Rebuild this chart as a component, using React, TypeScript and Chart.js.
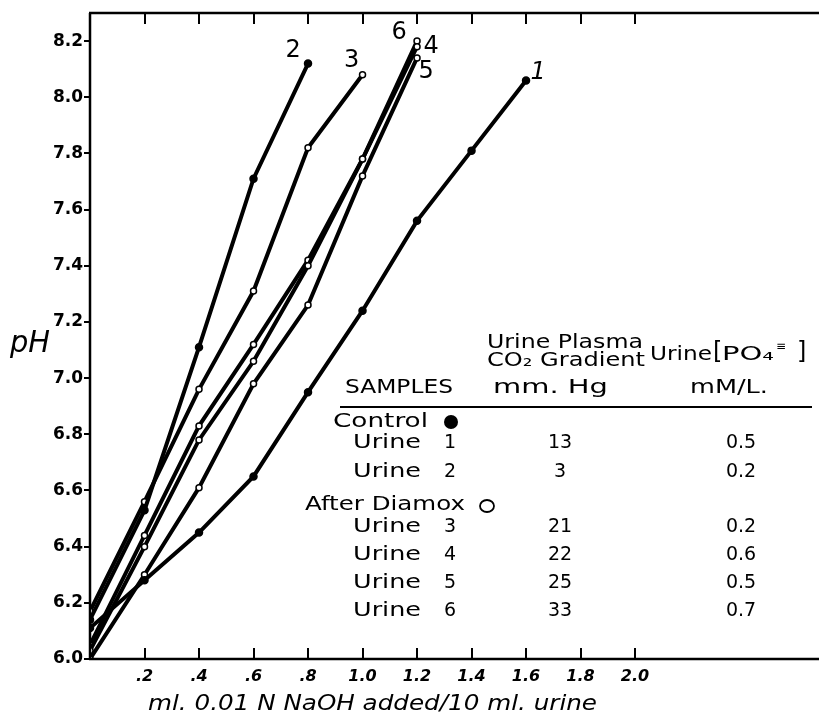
import React, { useEffect, useRef } from "react";
import { Chart, registerables } from "chart.js";

Chart.register(...registerables);

// ---------- data ----------
const xSteps = [0, 0.2, 0.4, 0.6, 0.8, 1.0, 1.2, 1.4, 1.6];
const urine1 = [6.11, 6.28, 6.45, 6.65, 6.95, 7.24, 7.56, 7.81, 8.06];
const urine2 = [6.14, 6.53, 7.11, 7.71, 8.12];
const urine3 = [6.17, 6.56, 6.96, 7.31, 7.82, 8.08];
const urine4 = [6.03, 6.4, 6.78, 7.06, 7.4, 7.78, 8.18];
const urine5 = [6.0, 6.3, 6.61, 6.98, 7.26, 7.72, 8.14];
const urine6 = [6.05, 6.44, 6.83, 7.12, 7.42, 7.78, 8.2];

const seriesNames = ["1", "2", "3", "4", "5", "6"];
const seriesValues = [urine1, urine2, urine3, urine4, urine5, urine6];
const seriesControl = [true, true, false, false, false, false];

const xTickValues = [0.2, 0.4, 0.6, 0.8, 1.0, 1.2, 1.4, 1.6, 1.8, 2.0];
const xTickLabels = [".2", ".4", ".6", ".8", "1.0", "1.2", "1.4", "1.6", "1.8", "2.0"];
const yTickValues = [6.0, 6.2, 6.4, 6.6, 6.8, 7.0, 7.2, 7.4, 7.6, 7.8, 8.0, 8.2];
const yTickLabels = ["6.0", "6.2", "6.4", "6.6", "6.8", "7.0", "7.2", "7.4", "7.6", "7.8", "8.0", "8.2"];

const xTitle = "ml. 0.01 N NaOH added/10 ml. urine";
const yTitle = "pH";

const controlRows = ["1", "2"];
const controlGradient = ["13", "3"];
const controlPO4 = ["0.5", "0.2"];
const diamoxRows = ["3", "4", "5", "6"];
const diamoxGradient = ["21", "22", "25", "33"];
const diamoxPO4 = ["0.2", "0.6", "0.5", "0.7"];

// ---------- style / layout ----------
const W = 819;
const H = 715;
const FONT = '"DejaVu Sans"';
// label offset (px) from each series' last point: [dx, dy]
const endLabelOffsets = [
  [12, -8],
  [-15, -13],
  [-11, -14],
  [14, 0],
  [9, 14],
  [-18, -8],
];

function drawFit(
  ctx: CanvasRenderingContext2D,
  s: string,
  x: number,
  y: number,
  font: string,
  width?: number,
  align: CanvasTextAlign = "left"
) {
  ctx.save();
  ctx.font = font;
  ctx.textAlign = align;
  ctx.textBaseline = "middle";
  ctx.fillStyle = "#000";
  ctx.translate(x, y);
  if (width) {
    const w = ctx.measureText(s).width;
    ctx.scale(width / w, 1);
  }
  ctx.fillText(s, 0, 0);
  ctx.restore();
}

const overlay = {
  id: "overlay",
  afterDraw(chart: any) {
    const ctx: CanvasRenderingContext2D = chart.ctx;
    const xs = chart.scales.x;
    const ys = chart.scales.y;
    const { left, top, bottom } = chart.chartArea;
    ctx.save();
    ctx.strokeStyle = "#000";
    ctx.lineCap = "butt";
    ctx.lineWidth = 2.5;
    ctx.beginPath();
    ctx.moveTo(left, top);
    ctx.lineTo(left, bottom);
    ctx.moveTo(left - 1, bottom);
    ctx.lineTo(chart.width, bottom);
    ctx.moveTo(left - 1, top);
    ctx.lineTo(chart.width, top);
    ctx.stroke();
    ctx.lineWidth = 2;
    ctx.beginPath();
    xTickValues.forEach((v) => {
      const px = Math.round(xs.getPixelForValue(v));
      ctx.moveTo(px, bottom);
      ctx.lineTo(px, bottom - 11);
      ctx.moveTo(px, top);
      ctx.lineTo(px, top + 11);
    });
    yTickValues.forEach((v) => {
      const py = Math.round(ys.getPixelForValue(v));
      ctx.moveTo(left - 6, py);
      ctx.lineTo(left, py);
    });
    ctx.stroke();

    seriesValues.forEach((vals, i) => {
      const lx = xSteps[vals.length - 1];
      const ly = vals[vals.length - 1];
      const px = xs.getPixelForValue(lx) + endLabelOffsets[i][0];
      const py = ys.getPixelForValue(ly) + endLabelOffsets[i][1];
      drawFit(ctx, seriesNames[i], px, py, (i === 0 ? "italic " : "") + `24px ${FONT}`, undefined, "center");
    });

    drawFit(ctx, xTitle, 148, 705, `italic 21px ${FONT}`, 449);
    drawFit(ctx, yTitle, 10, 344, `italic 30px ${FONT}`, 40);

    const f = `19px ${FONT}`;
    drawFit(ctx, "Urine Plasma", 487, 343, f, 156);
    drawFit(ctx, "CO₂ Gradient", 487, 361, f, 158);
    drawFit(ctx, "Urine", 650, 355, f, 62);
    drawFit(ctx, "[", 713, 353, `24px ${FONT}`);
    drawFit(ctx, "PO₄", 722, 355, f, 52);
    drawFit(ctx, "≡", 776, 347, `12px ${FONT}`);
    drawFit(ctx, "]", 797, 353, `24px ${FONT}`);
    drawFit(ctx, "SAMPLES", 345, 388, f, 108);
    drawFit(ctx, "mm. Hg", 493, 388, f, 115);
    drawFit(ctx, "mM/L.", 690, 388, f, 78);
    ctx.lineWidth = 2;
    ctx.beginPath();
    ctx.moveTo(340, 407);
    ctx.lineTo(812, 407);
    ctx.stroke();

    drawFit(ctx, "Control", 333, 422, f, 95);
    ctx.beginPath();
    ctx.arc(451, 422, 7, 0, Math.PI * 2);
    ctx.fill();
    const rowYC = [443, 472];
    controlRows.forEach((r, i) => {
      drawFit(ctx, "Urine", 353, rowYC[i], f, 68);
      drawFit(ctx, r, 450, rowYC[i], f, undefined, "center");
      drawFit(ctx, controlGradient[i], 560, rowYC[i], f, undefined, "center");
      drawFit(ctx, controlPO4[i], 741, rowYC[i], f, undefined, "center");
    });
    drawFit(ctx, "After Diamox", 305, 505, f, 160);
    ctx.lineWidth = 1.8;
    ctx.beginPath();
    ctx.ellipse(487, 506, 7, 6, 0, 0, Math.PI * 2);
    ctx.stroke();
    const rowYD = [527, 555, 583, 611];
    diamoxRows.forEach((r, i) => {
      drawFit(ctx, "Urine", 353, rowYD[i], f, 68);
      drawFit(ctx, r, 450, rowYD[i], f, undefined, "center");
      drawFit(ctx, diamoxGradient[i], 560, rowYD[i], f, undefined, "center");
      drawFit(ctx, diamoxPO4[i], 741, rowYD[i], f, undefined, "center");
    });
    ctx.restore();
  },
};

export default function App() {
  const ref = useRef<HTMLCanvasElement | null>(null);
  useEffect(() => {
    if (!ref.current) return;
    const datasets = seriesValues.map((vals, i) => ({
      label: "Urine " + seriesNames[i],
      data: vals.map((v, j) => ({ x: xSteps[j], y: v })),
      borderColor: "#000",
      borderWidth: 4,
      pointRadius: seriesControl[i] ? 3.5 : 3,
      pointBorderWidth: 1.5,
      pointBorderColor: "#000",
      pointBackgroundColor: seriesControl[i] ? "#000" : "#fff",
      tension: 0,
      fill: false,
    }));
    const chart = new Chart(ref.current, {
      type: "line",
      data: { datasets },
      plugins: [overlay],
      options: {
        animation: false,
        responsive: false,
        devicePixelRatio: 1,
        layout: { autoPadding: false, padding: { top: 13, right: 0, bottom: 0, left: 0 } },
        plugins: {
          legend: { display: false },
          tooltip: { enabled: false },
          title: { display: false },
        },
        scales: {
          x: {
            type: "linear",
            min: 0,
            max: 2.675,
            grid: { display: false, drawTicks: false },
            border: { display: false },
            afterBuildTicks: (s: any) => {
              s.ticks = xTickValues.map((v) => ({ value: v }));
            },
            afterFit: (s: any) => {
              s.height = 56;
              s.paddingLeft = 0;
              s.paddingRight = 0;
            },
            ticks: {
              autoSkip: false,
              maxRotation: 0,
              padding: 8,
              color: "#000",
              font: { family: "DejaVu Sans", size: 16, style: "italic", weight: "bold" },
              callback: (_v: any, i: number) => xTickLabels[i],
            },
          },
          y: {
            type: "linear",
            min: 6.0,
            max: 8.3,
            grid: { display: false, drawTicks: false },
            border: { display: false },
            afterBuildTicks: (s: any) => {
              s.ticks = yTickValues.map((v) => ({ value: v }));
            },
            afterFit: (s: any) => {
              s.width = 90;
              s.paddingTop = 0;
              s.paddingBottom = 0;
            },
            ticks: {
              autoSkip: false,
              padding: 7,
              color: "#000",
              font: { family: "DejaVu Sans", size: 17, weight: "bold" },
              callback: (_v: any, i: number) => yTickLabels[i],
            },
          },
        },
      },
    });
    return () => chart.destroy();
  }, []);
  return (
    <div style={{ position: "absolute", left: 0, top: 0, width: W, height: H, background: "#fff" }}>
      <canvas ref={ref} width={W} height={H} style={{ display: "block" }} />
    </div>
  );
}
